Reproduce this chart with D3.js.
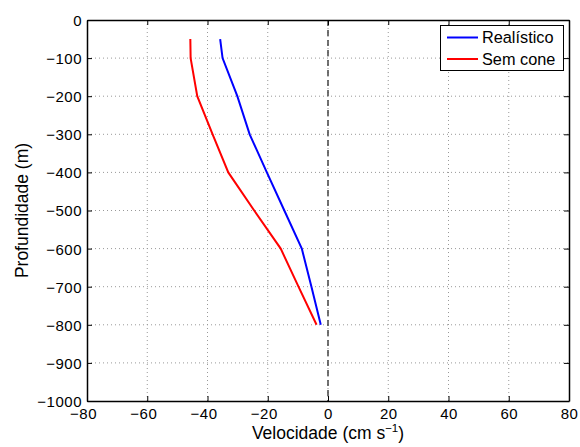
<!DOCTYPE html>
<html><head><meta charset="utf-8">
<script src="https://cdn.jsdelivr.net/npm/d3@7"></script>
<style>body{margin:0;background:#fff}svg{display:block}text{font-family:"Liberation Sans",Arial,sans-serif}</style>
</head><body>
<script>
const depths = [-50,-100,-200,-300,-400,-500,-600,-700,-800];
const realistico = [-35.8,-35.0,-30.1,-26.0,-20.3,-14.5,-8.7,-5.5,-2.4];
const semCone = [-45.7,-45.6,-43.4,-38.3,-33.1,-24.5,-15.7,-9.8,-3.8];
const xTicks = [-80,-60,-40,-20,0,20,40,60,80];
const yTicks = [0,-100,-200,-300,-400,-500,-600,-700,-800,-900,-1000];
const seriesNames = ["Realístico","Sem cone"];
const seriesColors = ["#0000ff","#ff0000"];

const W=580,H=447, L=87,R=569,T=20,B=401;
const svg=d3.select("body").append("svg").attr("width",W).attr("height",H);
const x=d3.scaleLinear().domain([-80,80]).range([L,R]);
const y=d3.scaleLinear().domain([-1000,0]).range([B,T]);
const fmt=v=>String(v).replace("-","\u2212");

// grid
const g=svg.append("g");
g.selectAll(".gx").data(xTicks.slice(1,-1)).join("line")
 .attr("x1",d=>x(d)).attr("x2",d=>x(d)).attr("y1",T).attr("y2",B)
 .attr("stroke","#999").attr("stroke-width",1).attr("stroke-dasharray","1,3");
g.selectAll(".gy").data(yTicks.slice(1,-1)).join("line")
 .attr("y1",d=>y(d)).attr("y2",d=>y(d)).attr("x1",L).attr("x2",R)
 .attr("stroke","#999").attr("stroke-width",1).attr("stroke-dasharray","1,3");

// zero dashed line
svg.append("line").attr("x1",x(0)).attr("x2",x(0)).attr("y1",T).attr("y2",B)
 .attr("stroke","#444").attr("stroke-width",1.5).attr("stroke-dasharray","6,4");

// axes
const ax=svg.append("g").attr("transform",`translate(0,${B})`).call(d3.axisBottom(x).tickValues(xTicks).tickFormat(fmt).tickSizeInner(-5).tickSizeOuter(0));
const axT=svg.append("g").attr("transform",`translate(0,${T})`).call(d3.axisTop(x).tickValues(xTicks).tickFormat("").tickSizeInner(-5).tickSizeOuter(0));
const ay=svg.append("g").attr("transform",`translate(${L},0)`).call(d3.axisLeft(y).tickValues(yTicks).tickFormat(fmt).tickSizeInner(-5).tickSizeOuter(0));
const ayR=svg.append("g").attr("transform",`translate(${R},0)`).call(d3.axisRight(y).tickValues(yTicks).tickFormat("").tickSizeInner(-5).tickSizeOuter(0));
[ax,axT,ay,ayR].forEach(a=>{a.select(".domain").attr("stroke","#000").attr("stroke-width",1.5);a.selectAll(".tick line").attr("stroke","#000");});
ax.selectAll("text").attr("font-size",15).attr("letter-spacing","0.5px").attr("fill","#000").attr("dy",0).attr("y",18)
  .attr("dx",d=>d<0?-4:0);
ay.selectAll("text").attr("font-size",15).attr("letter-spacing","0.5px").attr("fill","#000").attr("x",-5).attr("dy","0.36em");

// lines
const line=d3.line().x(d=>x(d[0])).y(d=>y(d[1]));
[realistico,semCone].forEach((s,i)=>{
  svg.append("path").datum(s.map((v,j)=>[v,depths[j]])).attr("d",line)
   .attr("fill","none").attr("stroke",seriesColors[i]).attr("stroke-width",2);
});

// legend
const lg=svg.append("g");
lg.append("rect").attr("x",440.5).attr("y",25.5).attr("width",123).attr("height",45)
 .attr("fill","#fff").attr("stroke","#000").attr("stroke-width",1);
seriesNames.forEach((n,i)=>{
  const yy=37.5+i*21.5;
  lg.append("line").attr("x1",447).attr("x2",478).attr("y1",yy).attr("y2",yy)
   .attr("stroke",seriesColors[i]).attr("stroke-width",2);
  lg.append("text").attr("x",482).attr("y",yy).attr("dy","0.36em").attr("font-size",16.3).text(n);
});

// axis labels
const xl=svg.append("text").attr("x",x(0)).attr("y",439).attr("text-anchor","middle").attr("font-size",17.5);
xl.append("tspan").text("Velocidade (cm s");
xl.append("tspan").attr("font-size",11.5).attr("dy",-7).text("\u22121");
xl.append("tspan").attr("dy",7).text(")");
svg.append("text").attr("transform",`translate(28,${(T+B)/2}) rotate(-90)`).attr("text-anchor","middle").attr("font-size",17.5).text("Profundidade (m)");
</script>
</body></html>
